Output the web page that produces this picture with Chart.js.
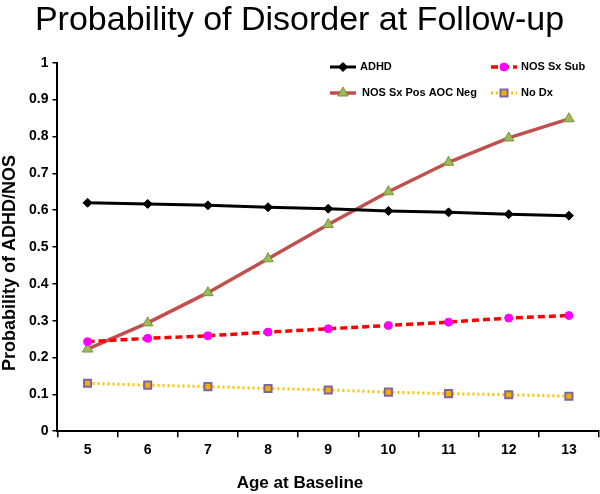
<!DOCTYPE html>
<html>
<head>
<meta charset="utf-8">
<script src="https://cdn.jsdelivr.net/npm/chart.js@4/dist/chart.umd.min.js"></script>
<style>
html,body{margin:0;padding:0;background:#fff;}
#wrap{width:600px;height:494px;position:relative;}
</style>
</head>
<body>
<div id="wrap"><canvas id="c" width="600" height="494"></canvas></div>
<script>
const ages = ['5','6','7','8','9','10','11','12','13'];
const adhd = [0.620, 0.617, 0.613, 0.608, 0.604, 0.598, 0.594, 0.589, 0.585];
const nosSxSub = [0.243, 0.252, 0.259, 0.269, 0.278, 0.287, 0.296, 0.307, 0.314];
const nosSxPosAocNeg = [0.223, 0.294, 0.376, 0.468, 0.561, 0.650, 0.730, 0.796, 0.848];
const noDx = [0.130, 0.125, 0.121, 0.116, 0.112, 0.106, 0.102, 0.099, 0.095];
const yTicks = [0, 0.1, 0.2, 0.3, 0.4, 0.5, 0.6, 0.7, 0.8, 0.9, 1];
const xTitle = 'Age at Baseline';
const yTitle = 'Probability of ADHD/NOS';
const chartTitle = 'Probability of Disorder at Follow-up';

const FONT = "'Liberation Sans', Arial, sans-serif";

const legendLayout = [
  {x: 330, y: 67, tx: 360},
  {x: 491, y: 67, tx: 521},
  {x: 330, y: 93, tx: 362},
  {x: 491, y: 93, tx: 521}
];

new Chart(document.getElementById('c'), {
  type: 'line',
  data: {
    labels: ages,
    datasets: [
      {
        label: 'ADHD', data: adhd,
        borderColor: '#000000', borderWidth: 3,
        pointStyle: 'rectRot', pointRadius: 4.5, pointBackgroundColor: '#000', pointBorderColor: '#000', pointBorderWidth: 1,
        tension: 0
      },
      {
        label: 'NOS Sx Sub', data: nosSxSub,
        borderColor: '#FF0000', borderWidth: 3.5, borderDash: [7, 4],
        pointStyle: 'circle', pointRadius: 4, pointBackgroundColor: '#FF00FF', pointBorderColor: '#FF00FF', pointBorderWidth: 1,
        tension: 0
      },
      {
        label: 'NOS Sx Pos AOC Neg', data: nosSxPosAocNeg,
        borderColor: '#C0504D', borderWidth: 3.5,
        pointStyle: 'triangle', pointRadius: 6, pointBackgroundColor: '#9BBB59', pointBorderColor: '#7F8F3A', pointBorderWidth: 1,
        tension: 0
      },
      {
        label: 'No Dx', data: noDx,
        borderColor: '#FFC000', borderWidth: 3, borderDash: [2, 3],
        pointStyle: 'rect', pointRadius: 5, pointBackgroundColor: '#F0B000', pointBorderColor: '#8064A2', pointBorderWidth: 2,
        tension: 0
      }
    ]
  },
  options: {
    responsive: false,
    animation: false,
    layout: {autoPadding: false, padding: {left: 0, right: 1, top: 0, bottom: 30}},
    plugins: {
      legend: {display: false},
      tooltip: {enabled: false},
      title: {
        display: true,
        text: chartTitle,
        color: '#000',
        font: {family: FONT, size: 34, weight: 'normal'},
        padding: {top: 0, bottom: 22}
      }
    },
    scales: {
      x: {
        offset: true,
        grid: {display: true, drawOnChartArea: false, drawTicks: true, tickLength: 6, offset: true, color: '#000', lineWidth: 1.5},
        border: {display: true, color: '#000', width: 2},
        ticks: {color: '#000', font: {family: FONT, size: 14, weight: 'bold'}, padding: 5, maxRotation: 0},
        title: {display: false}
      },
      y: {
        min: 0, max: 1,
        afterBuildTicks(axis) { axis.ticks = yTicks.map(v => ({value: v})); },
        afterFit(axis) { axis.width += 25; },
        grid: {display: true, drawOnChartArea: false, drawTicks: true, tickLength: 5, color: '#000', lineWidth: 1.5},
        border: {display: true, color: '#000', width: 2},
        ticks: {color: '#000', font: {family: FONT, size: 14, weight: 'bold'}, padding: 4,
          callback: v => String(Math.round(v * 10) / 10)},
        title: {display: false}
      }
    }
  },
  plugins: [{
    id: 'legendStyles',
    afterDraw(chart) {
      const ctx = chart.ctx;
      chart.data.datasets.forEach((ds, i) => {
        const L = legendLayout[i];
        ctx.save();
        ctx.strokeStyle = ds.borderColor;
        ctx.lineWidth = ds.borderWidth;
        ctx.setLineDash(ds.borderDash || []);
        ctx.beginPath();
        ctx.moveTo(L.x, L.y);
        ctx.lineTo(L.x + 26, L.y);
        ctx.stroke();
        ctx.setLineDash([]);
        ctx.fillStyle = ds.pointBackgroundColor;
        ctx.strokeStyle = ds.pointBorderColor;
        ctx.lineWidth = ds.pointBorderWidth;
        Chart.helpers.drawPoint(ctx, {pointStyle: ds.pointStyle, radius: ds.pointRadius, borderWidth: ds.pointBorderWidth, rotation: 0}, L.x + 13, L.y);
        ctx.restore();
        ctx.save();
        ctx.fillStyle = '#000';
        ctx.font = "bold 11px " + FONT;
        ctx.textBaseline = 'middle';
        ctx.textAlign = 'left';
        ctx.fillText(ds.label, L.tx, L.y);
        ctx.restore();
      });
      // axis titles, placed as in the original
      ctx.save();
      ctx.fillStyle = '#000';
      ctx.font = "bold 17px " + FONT;
      ctx.textAlign = 'center';
      ctx.textBaseline = 'middle';
      ctx.fillText(xTitle, chart.width / 2, 483);
      ctx.restore();
      ctx.save();
      ctx.fillStyle = '#000';
      ctx.font = "bold 18px " + FONT;
      ctx.textAlign = 'center';
      ctx.textBaseline = 'middle';
      ctx.translate(10, 263);
      ctx.rotate(-Math.PI / 2);
      ctx.fillText(yTitle, 0, 0);
      ctx.restore();
    }
  }]
});
</script>
</body>
</html>
